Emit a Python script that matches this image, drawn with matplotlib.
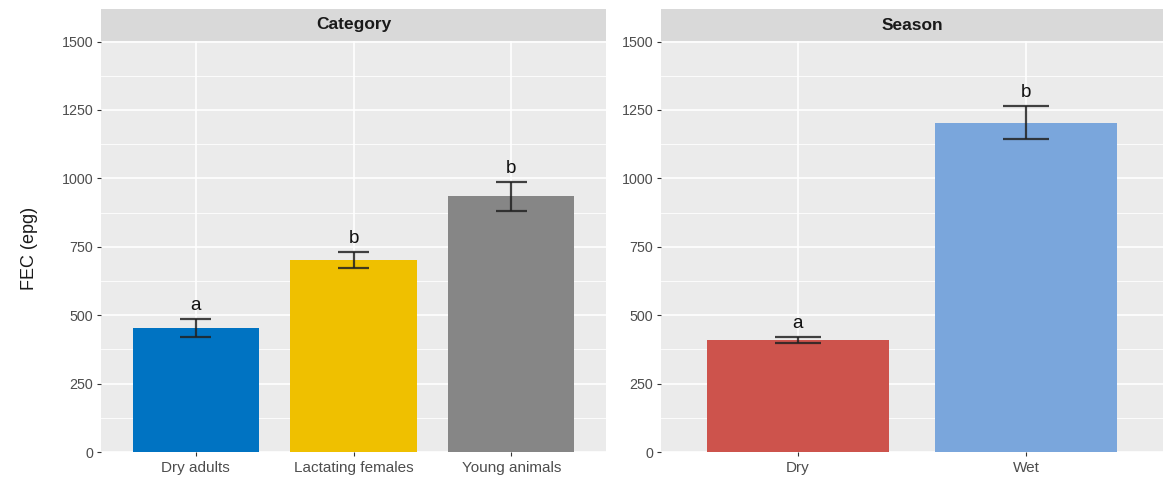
import matplotlib
matplotlib.use("Agg")
import matplotlib.pyplot as plt
import numpy as np

plt.rcParams['font.family'] = ['Liberation Sans', 'DejaVu Sans']

# Faecal egg counts by animal category
category_labels = ["Dry adults", "Lactating females", "Young animals"]
category_means = [453, 702, 934]
category_se = [32, 29, 52]
category_letters = ["a", "b", "b"]
category_colors = ["#0073C2", "#EFC000", "#868686"]

# Faecal egg counts by season
season_labels = ["Dry", "Wet"]
season_means = [410, 1204]
season_se = [11, 60]
season_letters = ["a", "b"]
season_colors = ["#CD534C", "#7AA6DC"]

y_ticks = [0, 250, 500, 750, 1000, 1250, 1500]
y_minor = [125, 375, 625, 875, 1125, 1375]

W, H = 1165, 479
fig = plt.figure(figsize=(W / 100, H / 100), dpi=100)
fig.patch.set_facecolor("white")

panel_top, panel_bottom = 41, 452
strip_top = 9


def make_panel(x0, x1, title, labels, means, se, letters, colors):
    ax = fig.add_axes([x0 / W, 1 - panel_bottom / H, (x1 - x0) / W,
                       (panel_bottom - panel_top) / H])
    ax.set_facecolor("#EBEBEB")
    n = len(labels)
    xs = np.arange(1, n + 1)
    ax.set_xlim(0.4, n + 0.6)
    ax.set_ylim(0, 1502)
    ax.set_axisbelow(True)
    for y in y_minor:
        ax.axhline(y, color="white", lw=0.6, zorder=0)
    for y in y_ticks:
        ax.axhline(y, color="white", lw=1.2, zorder=0)
    for x in xs:
        ax.axvline(x, color="white", lw=1.2, zorder=0)
    ax.bar(xs, means, width=0.8, color=colors, zorder=2)
    lo = np.array(means) - np.array(se)
    hi = np.array(means) + np.array(se)
    ec = "#222222"
    ax.vlines(xs, lo, hi, color=ec, lw=1.6, alpha=0.85, zorder=3)
    ax.hlines(lo, xs - 0.1, xs + 0.1, color=ec, lw=1.6, alpha=0.85, zorder=3)
    ax.hlines(hi, xs - 0.1, xs + 0.1, color=ec, lw=1.6, alpha=0.85, zorder=3)
    for x, top, lab in zip(xs, hi, letters):
        ax.annotate(lab, (x, top), xytext=(0, 6.5), textcoords="offset points",
                    ha="center", va="baseline", fontsize=13.5, color="#111111")
    ax.set_xticks(xs)
    ax.set_xticklabels(labels)
    ax.set_yticks(y_ticks)
    ax.tick_params(axis="both", length=3, width=0.8, color="#333333",
                   labelcolor="#4D4D4D")
    ax.tick_params(axis="x", labelsize=11, pad=3.5)
    ax.tick_params(axis="y", labelsize=10.3, pad=2.5)
    for s in ax.spines.values():
        s.set_visible(False)
    # facet strip
    sax = fig.add_axes([x0 / W, 1 - panel_top / H, (x1 - x0) / W,
                        (panel_top - strip_top) / H])
    sax.set_facecolor("#D9D9D9")
    sax.set_xticks([])
    sax.set_yticks([])
    for s in sax.spines.values():
        s.set_visible(False)
    sax.text(0.5, 0.5, title, transform=sax.transAxes, ha="center", va="center",
             fontsize=12.5, fontweight="bold", color="#1A1A1A")
    return ax


ax1 = make_panel(101, 606, "Category", category_labels, category_means,
                 category_se, category_letters, category_colors)
ax2 = make_panel(661, 1163, "Season", season_labels, season_means,
                 season_se, season_letters, season_colors)

fig.text(30 / W, 1 - 248 / H, "FEC (epg)", rotation=90, ha="center",
         va="center", fontsize=13, color="#1A1A1A")

fig.savefig("out.png", dpi=100)
